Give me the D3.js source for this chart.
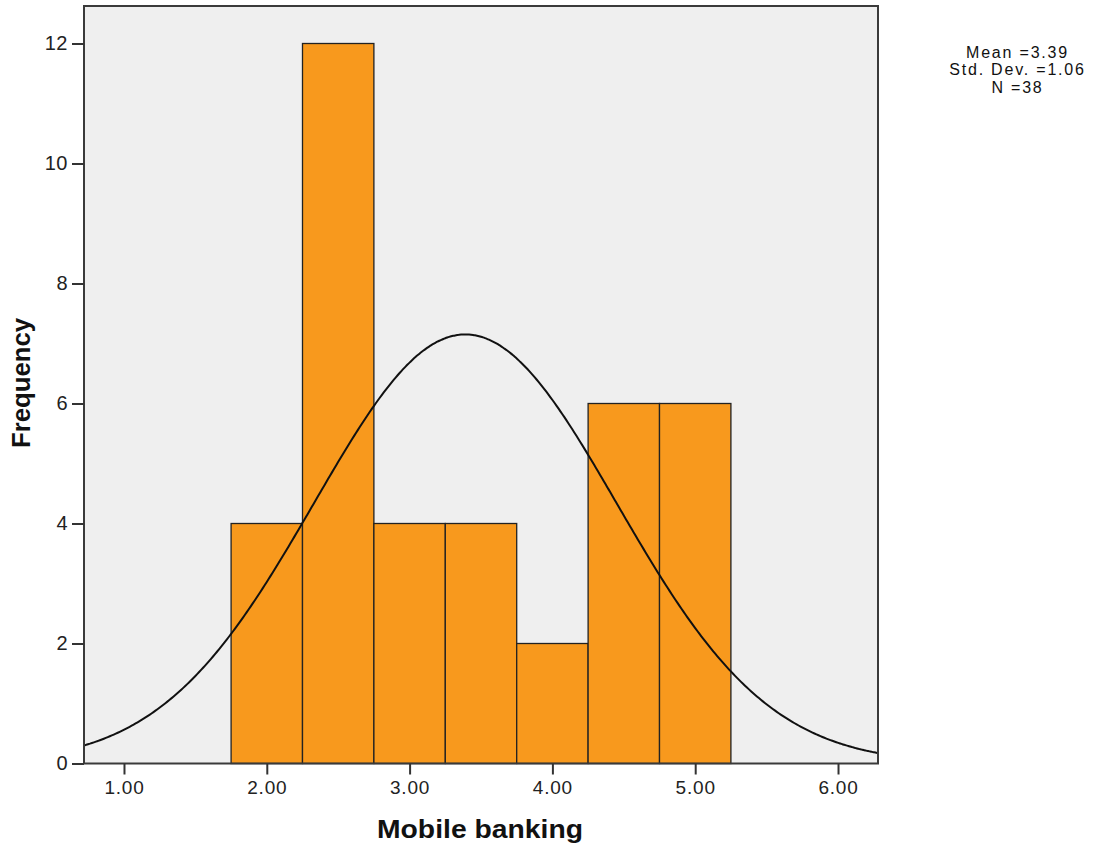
<!DOCTYPE html>
<html>
<head>
<meta charset="utf-8">
<script src="https://cdn.jsdelivr.net/npm/d3@7"></script>
<style>
  html, body { margin: 0; padding: 0; background: #ffffff; }
  svg { display: block; }
  .tick text { font-family: "Liberation Sans", Arial, sans-serif; fill: #222; }
</style>
</head>
<body>
<svg id="chart" width="1095" height="845"></svg>
<script>
// Histogram of "Mobile banking" scores with a fitted normal curve
const binStarts   = [1.75, 2.25, 2.75, 3.25, 3.75, 4.25, 4.75];
const binWidth    = 0.5;
const frequencies = [4, 12, 4, 4, 2, 6, 6];
const xTickValues = [1, 2, 3, 4, 5, 6];
const yTickValues = [0, 2, 4, 6, 8, 10, 12];
const statLines   = ["Mean =3.39", "Std. Dev. =1.06", "N =38"];
const mean = 3.39, sd = 1.06, n = 38;

const svg = d3.select("#chart");
const plot = { left: 84, top: 6, right: 878, bottom: 763.5 };

const x = d3.scaleLinear().domain([0.72, 6.28]).range([plot.left, plot.right]);
const y = d3.scaleLinear().domain([0, 12.625]).range([plot.bottom, plot.top]);

// plot background
svg.append("rect")
  .attr("x", plot.left).attr("y", plot.top)
  .attr("width", plot.right - plot.left).attr("height", plot.bottom - plot.top)
  .attr("fill", "#efefef");

// bars
svg.append("g").selectAll("rect")
  .data(binStarts.map((s, i) => ({ s, f: frequencies[i] })))
  .join("rect")
  .attr("x", d => x(d.s))
  .attr("y", d => y(d.f))
  .attr("width", d => x(d.s + binWidth) - x(d.s))
  .attr("height", d => y(0) - y(d.f))
  .attr("fill", "#f8991d")
  .attr("stroke", "#222")
  .attr("stroke-width", 1.3);

// normal curve scaled to counts
const pdf = v => n * binWidth / (sd * Math.sqrt(2 * Math.PI)) * Math.exp(-0.5 * ((v - mean) / sd) ** 2);
const curvePts = d3.range(0, 401).map(i => {
  const v = x.domain()[0] + (x.domain()[1] - x.domain()[0]) * i / 400;
  return [v, pdf(v)];
});
svg.append("path")
  .datum(curvePts)
  .attr("fill", "none")
  .attr("stroke", "#111")
  .attr("stroke-width", 2)
  .attr("d", d3.line().x(d => x(d[0])).y(d => y(d[1])).curve(d3.curveBasis));

// frame
svg.append("rect")
  .attr("x", plot.left).attr("y", plot.top)
  .attr("width", plot.right - plot.left).attr("height", plot.bottom - plot.top)
  .attr("fill", "none")
  .attr("stroke", "#3a3a3a")
  .attr("stroke-width", 2);

// axes
const xAxis = svg.append("g")
  .attr("transform", `translate(0,${plot.bottom})`)
  .call(d3.axisBottom(x).tickValues(xTickValues).tickFormat(d3.format(".2f")).tickSize(11).tickPadding(6));
const yAxis = svg.append("g")
  .attr("transform", `translate(${plot.left},0)`)
  .call(d3.axisLeft(y).tickValues(yTickValues).tickSize(12).tickPadding(4));

[xAxis, yAxis].forEach(g => {
  g.select(".domain").remove();
  g.selectAll(".tick line").attr("stroke", "#333").attr("stroke-width", 2);
  g.selectAll(".tick text").attr("font-size", 19).attr("letter-spacing", 0.8);
});
yAxis.selectAll(".tick text").attr("font-size", 20).attr("letter-spacing", 0.5);

// axis titles
svg.append("text")
  .attr("x", 480).attr("y", 838)
  .attr("text-anchor", "middle")
  .attr("font-family", "Liberation Sans, Arial, sans-serif")
  .attr("font-weight", "bold")
  .attr("font-size", 25)
  .attr("fill", "#111")
  .attr("textLength", 206)
  .attr("lengthAdjust", "spacingAndGlyphs")
  .text("Mobile banking");

svg.append("text")
  .attr("transform", "translate(30,383) rotate(-90)")
  .attr("text-anchor", "middle")
  .attr("font-family", "Liberation Sans, Arial, sans-serif")
  .attr("font-weight", "bold")
  .attr("font-size", 25)
  .attr("fill", "#111")
  .attr("textLength", 130)
  .attr("lengthAdjust", "spacingAndGlyphs")
  .text("Frequency");

// summary statistics
svg.append("g").selectAll("text")
  .data(statLines)
  .join("text")
  .attr("x", 1017.5)
  .attr("y", (d, i) => 57.5 + i * 17.5)
  .attr("text-anchor", "middle")
  .attr("font-family", "Liberation Sans, Arial, sans-serif")
  .attr("font-size", 16)
  .attr("letter-spacing", 1.8)
  .attr("fill", "#111")
  .text(d => d);
</script>
</body>
</html>
